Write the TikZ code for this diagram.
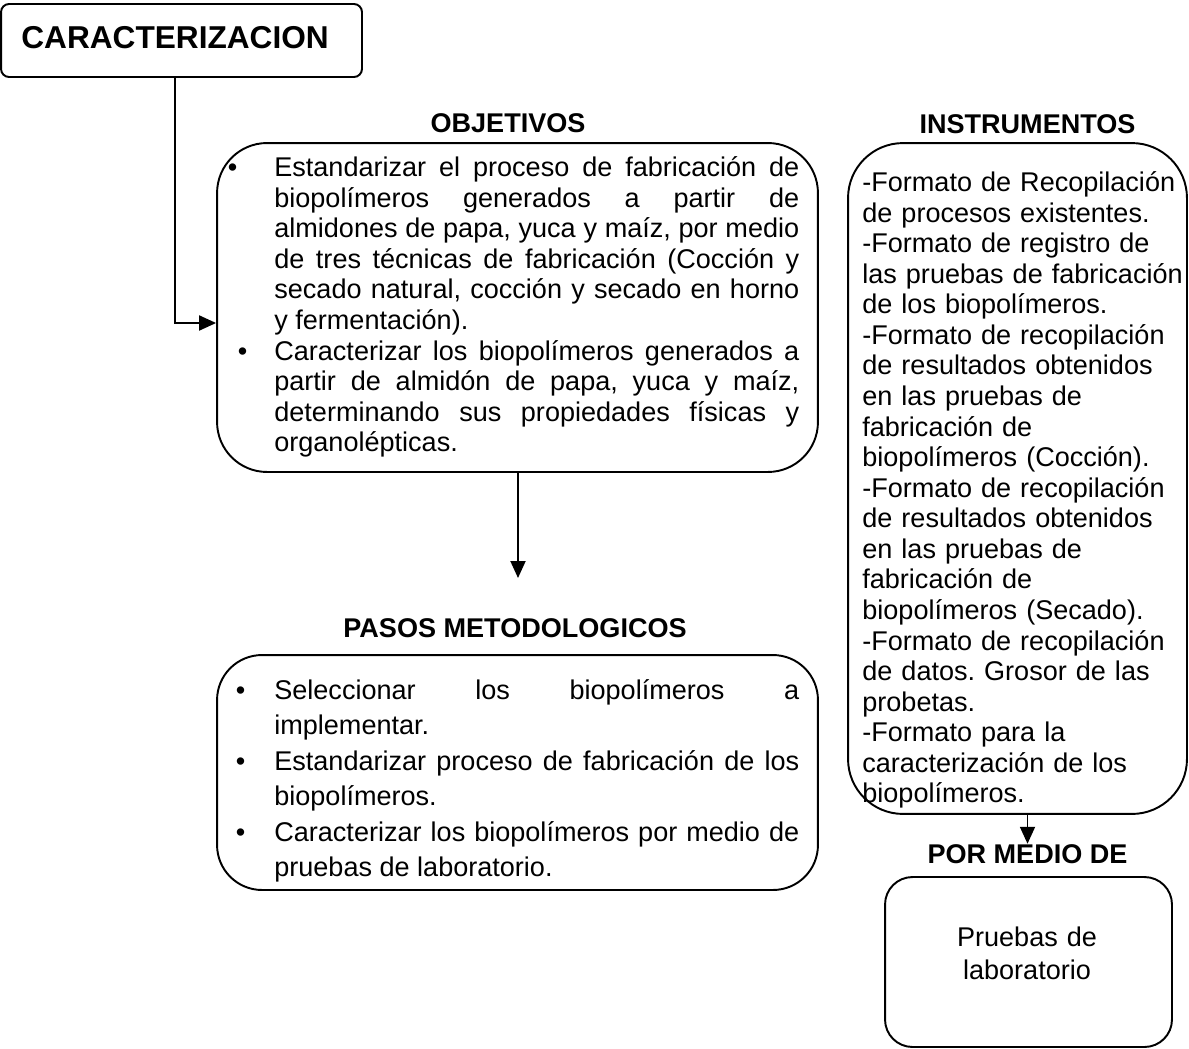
\documentclass[tikz,border=0pt]{standalone}
\usepackage{fontspec}
\setmainfont{Liberation Sans}
\usepackage{tikz}
\usetikzlibrary{arrows.meta,positioning}
\pretolerance=10000
\tolerance=10000
\hbadness=10000
\frenchspacing

\begin{document}
\begin{tikzpicture}[
x=0.02cm, y=-0.02cm,
MyBox/.style={draw, line width=1.1pt, inner sep=0pt},
MyTitle/.style={font=\bfseries\fontsize{15.4}{17.4}\selectfont, inner sep=0pt, anchor=base},
MyText/.style={font=\fontsize{15.4}{17.4}\selectfont, inner sep=0pt, anchor=base west},
MyArrow/.style={-{Triangle[length=0.34cm, width=0.3cm]}, line width=1.1pt}
]
\useasboundingbox (0,0) rectangle (1189,1048);

% boxes
\node[MyBox, rounded corners=0.16cm, minimum width=7.22cm, minimum height=1.46cm] (carac) at (181.5,40.5) {};
\node[MyBox, rounded corners=1cm, minimum width=12.02cm, minimum height=6.58cm] (obj) at (517.5,307.5) {};
\node[MyBox, rounded corners=0.9cm, minimum width=12.02cm, minimum height=4.7cm] (pasos) at (517.5,772.5) {};
\node[MyBox, rounded corners=1.1cm, minimum width=6.78cm, minimum height=13.42cm] (inst) at (1017.5,478.5) {};
\node[MyBox, rounded corners=0.55cm, minimum width=5.74cm, minimum height=3.4cm] (pruebas) at (1028.5,962) {};

% titles
\node[font=\bfseries\fontsize{18}{20}\selectfont, inner sep=0pt, anchor=base west] (caracT) at (21,48) {CARACTERIZACION};
\node[MyTitle] (objT) at (508,132) {OBJETIVOS};
\node[MyTitle] (instT) at (1027.5,133) {INSTRUMENTOS};
\node[MyTitle] (pasosT) at (515,637) {PASOS METODOLOGICOS};
\node[MyTitle] (porT) at (1027.5,863) {POR MEDIO DE};

% texts
\node[MyText, text width=10.5cm, align=justify] (objText) at (274,176.7) {%
\leavevmode\llap{\textbullet\hspace{0.74cm}}Estandarizar el proceso de fabricación de\linebreak biopolímeros generados a partir de\linebreak almidones de papa, yuca y maíz, por medio\linebreak de tres técnicas de fabricación (Cocción y\linebreak secado natural, cocción y secado en horno\linebreak y fermentación).\par
\leavevmode\llap{\textbullet\hspace{0.54cm}}Caracterizar los biopolímeros generados a\linebreak partir de almidón de papa, yuca y maíz,\linebreak determinando sus propiedades físicas y\linebreak organolépticas.};

\node[MyText, font=\fontsize{15.4}{20.25}\selectfont, text width=10.5cm, align=justify] (pasosText) at (274,699) {%
\leavevmode\llap{\textbullet\hspace{0.58cm}}Seleccionar los biopolímeros a\linebreak implementar.\par
\leavevmode\llap{\textbullet\hspace{0.58cm}}Estandarizar proceso de fabricación de los\linebreak biopolímeros.\par
\leavevmode\llap{\textbullet\hspace{0.58cm}}Caracterizar los biopolímeros por medio de\linebreak pruebas de laboratorio.};

\node[MyText, text width=6.6cm, align=left] (instText) at (862,191.5) {%
-Formato de Recopilación\\
de procesos existentes.\\
-Formato de registro de\\
las pruebas de fabricación\\
de los biopolímeros.\\
-Formato de recopilación\\
de resultados obtenidos\\
en las pruebas de\\
fabricación de\\
biopolímeros (Cocción).\\
-Formato de recopilación\\
de resultados obtenidos\\
en las pruebas de\\
fabricación de\\
biopolímeros (Secado).\\
-Formato de recopilación\\
de datos. Grosor de las\\
probetas.\\
-Formato para la\\
caracterización de los\\
biopolímeros.};

\node[MyText, font=\fontsize{15.4}{18.8}\selectfont, text width=5cm, align=center, anchor=base] (pruebasText) at (1027,946.5) {Pruebas de\\laboratorio};

% connectors
\coordinate (elbow) at (175,323);
\coordinate (pasosIn) at (518,578);
\draw[MyArrow] (carac.south -| elbow) |- (obj.west |- elbow);
\draw[MyArrow] (obj.south -| pasosIn) -- (pasosIn);
\draw[MyArrow] (inst.south -| porT.north) -- (porT.north);

\end{tikzpicture}
\end{document}
